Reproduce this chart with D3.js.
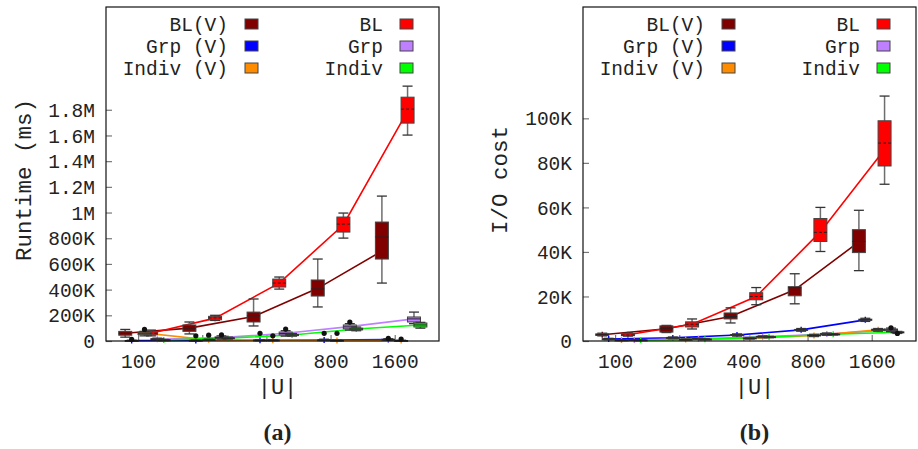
<!DOCTYPE html>
<html>
<head>
<meta charset="utf-8">
<script src="https://cdn.jsdelivr.net/npm/d3@7"></script>
<style>
  body { margin: 0; background: #fff; }
  text { font-family: "Liberation Mono", monospace; fill: #222; }
</style>
</head>
<body>
<div id="chart"></div>
<script>
// boxplots of runtime / I/O cost versus |U|
// each entry: [min, q1, median, q3, max, mean]

var categories = ['100', '200', '400', '800', '1600'];

// (a) runtime, ms
var rtBLV   = [[30e3,45e3,60e3,75e3,90e3,60e3], [55e3,75e3,100e3,125e3,148e3,100e3], [117e3,148e3,195e3,225e3,327e3,190e3], [265e3,350e3,405e3,475e3,638e3,410e3], [451e3,638e3,809e3,926e3,1128e3,700e3]];
var rtBL    = [[40e3,48e3,60e3,72e3,85e3,60e3], [160e3,165e3,180e3,192e3,200e3,178e3], [404e3,420e3,451e3,482e3,498e3,450e3], [801e3,848e3,910e3,965e3,996e3,905e3], [1603e3,1696e3,1805e3,1898e3,1984e3,1790e3]];
var rtGrpV  = [[1e3,2e3,3e3,4e3,6e3,3e3], [2e3,3e3,4e3,6e3,8e3,4e3], [3e3,4e3,6e3,8e3,10e3,6e3], [4e3,6e3,8e3,10e3,14e3,8e3], [6e3,8e3,11e3,14e3,18e3,11e3]];
var rtGrp   = [[8e3,10e3,14e3,18e3,22e3,14e3], [15e3,20e3,26e3,32e3,40e3,26e3], [38e3,47e3,58e3,70e3,80e3,60e3], [85e3,95e3,110e3,125e3,135e3,112e3], [135e3,148e3,172e3,187e3,225e3,172e3]];
var rtIndV  = [[40e3,50e3,60e3,68e3,75e3,62e3], [5e3,7e3,9e3,12e3,15e3,9e3], [3e3,5e3,6e3,8e3,10e3,6e3], [2e3,3e3,4e3,6e3,8e3,4e3], [1e3,2e3,3e3,4e3,6e3,3e3]];
var rtInd   = [[4e3,6e3,8e3,10e3,12e3,8e3], [15e3,18e3,22e3,26e3,30e3,22e3], [38e3,42e3,47e3,52e3,58e3,47e3], [80e3,86e3,93e3,100e3,108e3,93e3], [100e3,109e3,125e3,140e3,145e3,125e3]];
// outliers [category index, value]
var rtOutGrpV = [[0, 12e3], [1, 40e3], [2, 60e3], [3, 60e3], [4, 20e3]];
var rtOutGrp  = [[1, 47e3], [2, 93e3], [3, 148e3]];
var rtOutIndV = [[0, 90e3], [1, 45e3], [2, 40e3], [3, 60e3], [4, 15e3]];

var rtTicks  = [0, 200e3, 400e3, 600e3, 800e3, 1e6, 1.2e6, 1.4e6, 1.6e6, 1.8e6];
var rtLabels = ['0', '200K', '400K', '600K', '800K', '1M', '1.2M', '1.4M', '1.6M', '1.8M'];

// (b) I/O cost
var ioBLV  = [[2.3e3,2.5e3,2.8e3,3.2e3,3.5e3,2.8e3], [3.8e3,4.0e3,5.5e3,6.8e3,7.0e3,5.5e3], [8.1e3,9.9e3,11e3,12.6e3,14.9e3,11e3], [16.7e3,20.3e3,23.9e3,24.4e3,30.2e3,23e3], [31.6e3,39.7e3,44.7e3,50e3,58.7e3,44.5e3]];
var ioBL   = [[2.2e3,2.4e3,2.7e3,3.3e3,3.6e3,2.8e3], [5.4e3,6.3e3,7.5e3,8.6e3,9.9e3,7.5e3], [16.3e3,18.5e3,20e3,21.7e3,24e3,20e3], [40.2e3,44.7e3,48.8e3,55e3,60e3,49e3], [70.4e3,78.6e3,88.9e3,98.9e3,110e3,86e3]];
var ioGrpV = [[0.6e3,0.8e3,0.9e3,1.0e3,1.2e3,0.9e3], [1.0e3,1.2e3,1.4e3,1.6e3,1.8e3,1.4e3], [2.2e3,2.5e3,2.7e3,2.9e3,3.2e3,2.7e3], [4.4e3,4.8e3,5.0e3,5.2e3,5.6e3,5.0e3], [8.8e3,9.3e3,9.5e3,9.8e3,10.2e3,9.5e3]];
var ioGrp  = [[0.3e3,0.4e3,0.5e3,0.6e3,0.7e3,0.5e3], [0.8e3,0.9e3,1.0e3,1.1e3,1.3e3,1.0e3], [1.5e3,1.7e3,1.9e3,2.1e3,2.3e3,1.9e3], [2.6e3,2.9e3,3.1e3,3.4e3,3.6e3,3.1e3], [4.2e3,4.6e3,5.0e3,5.4e3,5.8e3,5.0e3]];
var ioIndV = [[0.2e3,0.3e3,0.4e3,0.5e3,0.6e3,0.4e3], [0.5e3,0.6e3,0.7e3,0.8e3,0.9e3,0.7e3], [0.9e3,1.0e3,1.2e3,1.4e3,1.6e3,1.2e3], [2.0e3,2.3e3,2.5e3,2.7e3,3.0e3,2.5e3], [4.4e3,4.8e3,5.0e3,5.3e3,5.6e3,5.0e3]];
var ioInd  = [[0.3e3,0.35e3,0.4e3,0.45e3,0.5e3,0.4e3], [0.6e3,0.7e3,0.8e3,0.9e3,1.0e3,0.8e3], [1.5e3,1.65e3,1.8e3,1.95e3,2.1e3,1.8e3], [2.7e3,2.85e3,3.0e3,3.15e3,3.3e3,3.0e3], [3.4e3,3.7e3,3.9e3,4.1e3,4.3e3,3.9e3]];
var ioOutGrp = [[4, 5.9e3]];
var ioOutInd = [[4, 3.4e3]];

var ioTicks  = [0, 20e3, 40e3, 60e3, 80e3, 100e3];
var ioLabels = ['0', '20K', '40K', '60K', '80K', '100K'];

// series look: name, colour, x offset (in category units)
var seriesNames   = ['BL(V)', 'BL', 'Grp (V)', 'Grp', 'Indiv (V)', 'Indiv'];
var seriesColours = ['#800000', '#ff0000', '#0000ff', '#bf80ff', '#ff8c00', '#00ff00'];
var seriesOffsets = [-0.2, 0.2, -0.1, 0.3, 0.1, 0.4];

var width = 918, height = 449;

var svg = d3.select("#chart").append("svg")
    .attr("width", width)
    .attr("height", height);

function drawPanel(opt) {
  var g = svg.append("g");

  var x = d3.scaleLinear()
      .domain([-0.5, 4.69])
      .range([opt.left, opt.right]);
  var y = d3.scaleLinear()
      .domain([0, opt.ymax])
      .range([opt.bottom, opt.top]);

  // axes, ticks pointing inward
  var xAxis = d3.axisBottom(x)
      .tickValues(d3.range(categories.length))
      .tickFormat(function(i) { return categories[i]; })
      .tickSize(-6)
      .tickPadding(13);
  var yAxis = d3.axisLeft(y)
      .tickValues(opt.ticks)
      .tickFormat(function(d, i) { return opt.labels[i]; })
      .tickSize(-6)
      .tickPadding(11);

  var gx = g.append("g")
      .attr("transform", "translate(0," + opt.bottom + ")")
      .call(xAxis);
  var gy = g.append("g")
      .attr("transform", "translate(" + opt.left + ",0)")
      .call(yAxis);
  [gx, gy].forEach(function(a) {
    a.select(".domain").remove();
    a.selectAll(".tick line").attr("stroke", "#777").attr("stroke-width", 1.2);
    a.selectAll(".tick text")
      .style("font-family", "Liberation Mono, monospace")
      .style("font-size", "19.5px")
      .attr("fill", "#222");
  });
  gy.selectAll(".tick text").attr("dy", "0.34em");

  // lines through means
  var line = d3.line()
      .x(function(d) { return d[0]; })
      .y(function(d) { return d[1]; });

  opt.series.forEach(function(s, k) {
    var pts = s.map(function(v, i) { return [x(i + seriesOffsets[k]), y(v[5])]; });
    g.append("path")
      .attr("d", line(pts))
      .attr("fill", "none")
      .attr("stroke", seriesColours[k])
      .attr("stroke-width", 1.6);
    g.selectAll(null)
      .data(pts)
      .enter().append("path")
      .attr("d", function(p) { return "M" + (p[0]-3) + "," + p[1] + "h6M" + p[0] + "," + (p[1]-3) + "v6"; })
      .attr("stroke", seriesColours[k])
      .attr("stroke-width", 1.4);
  });

  // boxes
  var bw = 13, cw = 10;
  opt.series.forEach(function(s, k) {
    s.forEach(function(v, i) {
      var cx = x(i + seriesOffsets[k]);
      var b = g.append("g");
      // whiskers
      b.append("line").attr("x1", cx).attr("x2", cx).attr("y1", y(v[0])).attr("y2", y(v[1]))
        .attr("stroke", "#6e6e6e").attr("stroke-width", 1.5);
      b.append("line").attr("x1", cx).attr("x2", cx).attr("y1", y(v[3])).attr("y2", y(v[4]))
        .attr("stroke", "#6e6e6e").attr("stroke-width", 1.5);
      [v[0], v[4]].forEach(function(w) {
        b.append("line").attr("x1", cx - cw/2).attr("x2", cx + cw/2).attr("y1", y(w)).attr("y2", y(w))
          .attr("stroke", "#333").attr("stroke-width", 1.3);
      });
      b.append("rect")
        .attr("x", cx - bw/2)
        .attr("y", y(v[3]))
        .attr("width", bw)
        .attr("height", Math.max(1, y(v[1]) - y(v[3])))
        .attr("fill", seriesColours[k])
        .attr("stroke", "#444")
        .attr("stroke-width", 1);
      b.append("line").attr("x1", cx - bw/2).attr("x2", cx + bw/2).attr("y1", y(v[2])).attr("y2", y(v[2]))
        .attr("stroke", "#222").attr("stroke-width", 1)
        .attr("stroke-dasharray", k == 1 ? "3,2" : null);
    });
  });

  // outliers
  opt.outliers.forEach(function(o) {
    g.selectAll(null)
      .data(o.pts)
      .enter().append("circle")
      .attr("cx", function(d) { return x(d[0] + seriesOffsets[o.k]); })
      .attr("cy", function(d) { return y(d[1]); })
      .attr("r", 2.6)
      .attr("fill", "#111");
  });

  // frame
  g.append("rect")
    .attr("x", opt.left).attr("y", opt.top)
    .attr("width", opt.right - opt.left).attr("height", opt.bottom - opt.top)
    .attr("fill", "none").attr("stroke", "#111").attr("stroke-width", 1.2);

  // legend, two columns of three
  var cols = [[0, 2, 4], [1, 3, 5]];
  var rowsY = [24, 46, 68];
  cols.forEach(function(col, c) {
    col.forEach(function(k, r) {
      g.append("text")
        .attr("x", opt.legendX[c])
        .attr("y", rowsY[r])
        .attr("dy", "0.34em")
        .attr("text-anchor", "end")
        .style("font-size", "19.5px")
        .text(seriesNames[k]);
      g.append("rect")
        .attr("x", opt.legendX[c] + 17)
        .attr("y", rowsY[r] - 5)
        .attr("width", 13).attr("height", 10)
        .attr("fill", seriesColours[k])
        .attr("stroke", "#444").attr("stroke-width", 1);
    });
  });

  // titles
  g.append("text")
    .attr("transform", "translate(" + opt.ytitleX + "," + ((opt.top + opt.bottom) / 2 + 6) + ") rotate(-90)")
    .attr("text-anchor", "middle")
    .attr("dy", "0.35em")
    .style("font-size", "22.5px")
    .text(opt.ytitle);
  g.append("text")
    .attr("x", (opt.left + opt.right) / 2 + 5)
    .attr("y", 386)
    .attr("dy", "0.35em")
    .attr("text-anchor", "middle")
    .style("font-size", "22px")
    .text("|U|");
  g.append("text")
    .attr("x", (opt.left + opt.right) / 2 + 5)
    .attr("y", 432)
    .attr("dy", "0.35em")
    .attr("text-anchor", "middle")
    .style("font-family", "Liberation Serif, serif")
    .style("font-weight", "bold")
    .style("font-size", "24px")
    .text(opt.caption);
}

drawPanel({
  left: 106, right: 439, top: 7, bottom: 341,
  ymax: 2.6e6, ticks: rtTicks, labels: rtLabels,
  series: [rtBLV, rtBL, rtGrpV, rtGrp, rtIndV, rtInd],
  outliers: [{k: 2, pts: rtOutGrpV}, {k: 3, pts: rtOutGrp}, {k: 4, pts: rtOutIndV}],
  legendX: [228, 383],
  ytitle: "Runtime (ms)", ytitleX: 23, caption: "(a)"
});

drawPanel({
  left: 583, right: 916, top: 7, bottom: 341,
  ymax: 150e3, ticks: ioTicks, labels: ioLabels,
  series: [ioBLV, ioBL, ioGrpV, ioGrp, ioIndV, ioInd],
  outliers: [{k: 3, pts: ioOutGrp}, {k: 5, pts: ioOutInd}],
  legendX: [705, 860],
  ytitle: "I/O cost", ytitleX: 499, caption: "(b)"
});
</script>
</body>
</html>
